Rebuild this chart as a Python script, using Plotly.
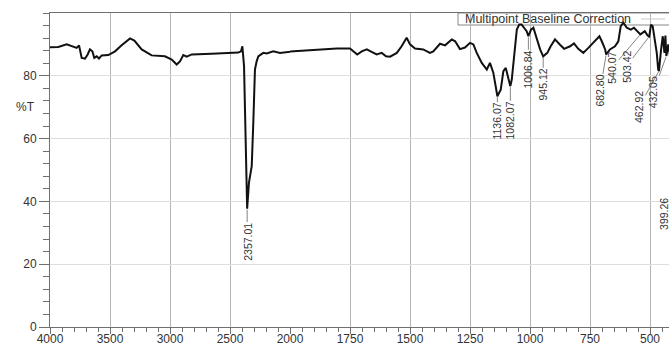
import plotly.graph_objects as go

# FTIR spectrum: wavenumber (cm-1) and transmittance (%T)
wavenumber = [
    4000, 3931, 3861, 3819, 3778, 3758, 3736, 3708, 3686, 3667, 3647, 3631,
    3611, 3592, 3569, 3514, 3458, 3403, 3333, 3297, 3236, 3153, 3042, 2986,
    2944, 2917, 2889, 2861, 2819, 2653, 2431, 2408, 2397, 2383, 2371, 2361,
    2357.01, 2342, 2319, 2306, 2292, 2278, 2264, 2250, 2222, 2194, 2139, 2083,
    2028, 2000, 1986, 1889, 1805, 1750, 1736, 1720, 1701, 1680, 1660, 1639,
    1618, 1600, 1583, 1555, 1535, 1514, 1500, 1479, 1445, 1417, 1403, 1375,
    1354, 1326, 1312, 1292, 1271, 1250, 1236, 1222, 1201, 1180, 1167, 1153,
    1142, 1136.07, 1122, 1111, 1101, 1090, 1082.07, 1076, 1067, 1055, 1045,
    1035, 1025, 1014, 1006.84, 996, 986, 972, 958, 945.12, 928, 914, 896,
    875, 858, 833, 817, 799, 778, 757, 729, 711, 701, 687, 682.80, 667, 646,
    632, 622, 611, 597, 580, 567, 549, 540.07, 522, 510, 503.42, 496, 489,
    479, 472, 466, 462.92, 454, 447, 440, 436, 432.05, 424, 412, 405, 399.26,
    395,
]
transmittance = [
    89.1, 89.2, 90.0, 89.4, 88.9, 89.7, 85.7, 85.5, 86.8, 88.4, 87.8, 85.7,
    86.2, 85.5, 86.5, 86.6, 87.8, 89.7, 91.9, 91.2, 88.4, 86.5, 86.2, 85.2,
    83.6, 84.6, 86.6, 86.1, 86.8, 87.0, 87.4, 87.8, 89.4, 83.1, 59.7, 39.6,
    37.7, 46.0, 51.2, 64.8, 82.0, 84.6, 86.2, 86.6, 87.3, 87.1, 87.8, 87.3,
    87.6, 87.7, 87.8, 88.4, 88.7, 88.7, 87.8, 86.8, 87.8, 88.4, 87.6, 86.8,
    87.3, 86.2, 86.1, 87.3, 89.4, 92.1, 90.0, 88.7, 88.4, 87.3, 87.8, 90.2,
    89.7, 91.6, 91.0, 88.5, 89.0, 90.5, 90.0, 87.3, 84.1, 82.0, 84.1, 81.0,
    76.2, 73.5, 75.6, 81.5, 82.5, 79.4, 76.7, 78.8, 86.2, 94.7, 96.3,
    96.3, 95.3, 94.2, 92.6, 94.7, 95.3, 91.6, 88.4, 86.2, 87.3, 89.4, 91.6,
    89.9, 88.6, 89.4, 90.3, 88.6, 87.3, 88.9, 91.0, 92.6, 91.0, 88.4, 86.8, 88.4, 89.4,
    91.0, 95.8, 96.9, 95.3, 94.7, 95.3, 93.7, 93.2, 94.2, 92.8, 92.5, 96.3, 95.8,
    90.5, 87.3, 82.0, 81.5, 88.4, 92.6, 87.3, 92.8, 86.3, 90.0, 84.0, 70.0, 45.0,
    62.0,
]

# Labelled absorption bands
peak_wavenumber = [2357.01, 1136.07, 1082.07, 1006.84, 945.12, 682.80,
                   540.07, 503.42, 462.92, 432.05, 399.26]
peak_label = ["2357.01", "1136.07", "1082.07", "1006.84", "945.12", "682.80",
              "540.07", "503.42", "462.92", "432.05", "399.26"]

x_ticks_high = [4000, 3500, 3000, 2500, 2000]
x_ticks_low = [1750, 1500, 1250, 1000, 750, 500]
y_ticks = [0, 20, 40, 60, 80]

# ---- layout geometry -------------------------------------------------------
W, H = 669, 345
ML, MR, MT, MB = 50, 0, 13, 18
plot_w = W - ML - MR
plot_h = H - MT - MB
split = 240 / plot_w          # 4000-2000 panel width (compressed scale)
low_end = 421                 # right end of the expanded 2000-400 panel
y_range = [0, 100]

FONT = "Liberation Sans, Arial, sans-serif"
TXT = "#333333"
AXC = "#707070"

fig = go.Figure()
for xa in ("x", "x2"):
    fig.add_trace(go.Scatter(
        x=wavenumber, y=transmittance, xaxis=xa, yaxis="y", mode="lines",
        line=dict(color="#111111", width=2), showlegend=False,
        hoverinfo="skip"))

common_x = dict(
    showline=True, linecolor=AXC, linewidth=1, mirror=True,
    ticks="outside", ticklen=6, tickcolor=AXC, tickwidth=1,
    showgrid=True, gridcolor="#b4b4b4", gridwidth=1, zeroline=False,
    tickfont=dict(family=FONT, size=12, color=TXT),
    tickmode="array", automargin=False, ticklabelstandoff=-5,
)
fig.update_layout(
    width=W, height=H,
    margin=dict(l=ML, r=MR, t=MT, b=MB, pad=0, autoexpand=False),
    paper_bgcolor="white", plot_bgcolor="white",
    showlegend=False,
    xaxis=dict(common_x, domain=[0, split], range=[4000, 2000],
               tickvals=x_ticks_high, anchor="y",
               minor=dict(tickmode="linear", tick0=0, dtick=100, ticks="outside",
                          ticklen=4, tickcolor=AXC, showgrid=False)),
    xaxis2=dict(common_x, domain=[split, 1], range=[2000, low_end],
                tickvals=x_ticks_low, anchor="y",
                minor=dict(tickmode="linear", tick0=0, dtick=50, ticks="outside",
                           ticklen=4, tickcolor=AXC, showgrid=False)),
    yaxis=dict(range=y_range, domain=[0, 1], anchor="x", automargin=False,
               showline=True, linecolor=AXC, linewidth=1,
               ticks="outside", ticklen=10, tickcolor=AXC,
               tickmode="array", tickvals=y_ticks,
               showgrid=True, gridcolor="#dedede", zeroline=False,
               tickfont=dict(family=FONT, size=12, color=TXT),
               minor=dict(tickmode="linear", tick0=0, dtick=4, ticks="outside",
                          ticklen=6, tickcolor=AXC, showgrid=False)),
)

# axis title "%T" placed beside the 70 % level
fig.add_annotation(text="%T", xref="paper", yref="y", x=-13 / plot_w, y=70,
                   xanchor="right", yanchor="middle", showarrow=False,
                   font=dict(family=FONT, size=12, color=TXT))

# ---- peak labels with leader lines ----------------------------------------
t_at = dict(zip(wavenumber, transmittance))
# text-centre offsets from each band minimum, in screen pixels
label_offset = {
    "2357.01": (0, 33), "1136.07": (0, 25), "1082.07": (0, 34),
    "1006.84": (0, 33), "945.12": (0, 28), "682.80": (-6, 36),
    "540.07": (-28, 33), "503.42": (-23, 30), "462.92": (-20, 36),
    "432.05": (-13, 36), "399.26": (-11, 28),
}
px_per_low = plot_w * (1 - split) / (2000 - low_end)
px_per_t = plot_h / (y_range[1] - y_range[0])
for wn, lab in zip(peak_wavenumber, peak_label):
    dx, dy = label_offset[lab]
    xa = "x" if wn >= 2000 else "x2"
    ann = dict(x=wn, y=t_at[wn], xref=xa, yref="y", text=lab, textangle=-90,
               showarrow=True, arrowhead=0, arrowwidth=0.8, arrowcolor="#666666",
               standoff=1, borderpad=0,
               font=dict(family=FONT, size=10.5, color=TXT))
    if xa == "x2" and wn < low_end:
        # band minimum lies past the panel edge: anchor the text in data units
        ann.update(axref="x2", ayref="y",
                   ax=wn - dx / px_per_low, ay=t_at[wn] - dy / px_per_t)
    else:
        ann.update(ax=dx, ay=dy)
    fig.add_annotation(**ann)

# ---- legend box ------------------------------------------------------------
def px_x(p):
    return (p - ML) / plot_w

def px_y(p):
    return (H - MB - p) / plot_h

fig.add_shape(type="rect", xref="paper", yref="paper",
              x0=px_x(458), x1=px_x(700), y0=px_y(25), y1=px_y(13),
              line=dict(color="#888888", width=1), fillcolor="white",
              layer="between")
fig.add_shape(type="line", xref="paper", yref="paper",
              x0=px_x(641), x1=px_x(665), y0=px_y(19), y1=px_y(19),
              line=dict(color="#c8c8c8", width=1))
fig.add_annotation(text="Multipoint Baseline Correction", xref="paper",
                   yref="paper", x=px_x(463), y=px_y(19), xanchor="left",
                   yanchor="middle", showarrow=False,
                   font=dict(family=FONT, size=12.5, color=TXT))

fig.write_html("out.html")
